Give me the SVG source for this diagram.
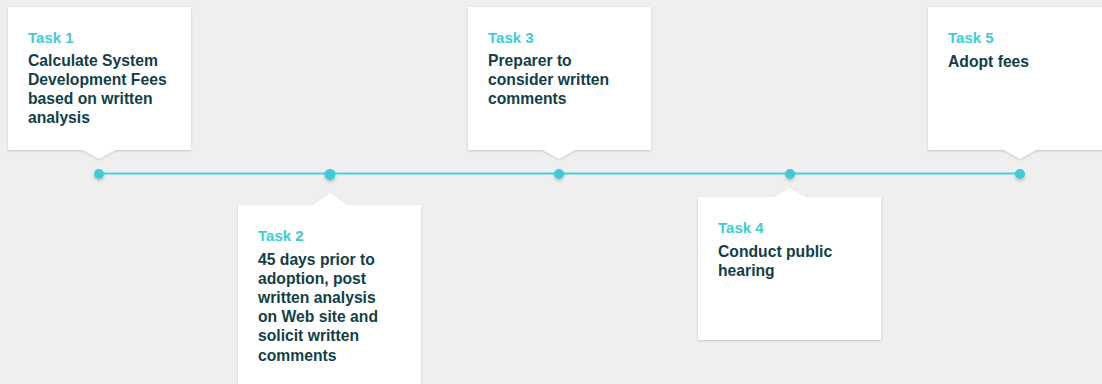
<svg xmlns="http://www.w3.org/2000/svg" width="1102" height="384" viewBox="0 0 1102 384">
<defs>
<filter id="sh" x="-10%" y="-10%" width="120%" height="130%">
<feDropShadow dx="0" dy="1" stdDeviation="1.2" flood-color="#000" flood-opacity="0.18"/>
</filter>
<filter id="dsh" x="-100%" y="-100%" width="300%" height="300%">
<feDropShadow dx="0" dy="2" stdDeviation="1.5" flood-color="#000" flood-opacity="0.2"/>
</filter>
</defs>
<style>
.card{fill:#ffffff;filter:url(#sh)}
.lbl{font-family:"Liberation Sans",Arial,sans-serif;font-weight:bold;font-size:15px;fill:#40cbd6}
.txt{font-family:"Liberation Sans",Arial,sans-serif;font-weight:bold;font-size:15.7px;fill:#123f47}
.dot{fill:#3ecbd6;filter:url(#dsh)}
</style>
<rect width="1102" height="384" fill="#efefef"/>
<g id="connectors">
<line x1="99" y1="173.5" x2="1020" y2="173.5" stroke="#4fcfd9" stroke-width="2"/>
</g>
<g id="task1">
<path class="card" d="M8 7H191V150H115L99 159L83 150H8Z"/>
<text class="lbl" x="28" y="43">Task 1</text>
<text class="txt" x="28" y="66">Calculate System</text>
<text class="txt" x="28" y="85">Development Fees</text>
<text class="txt" x="28" y="104">based on written</text>
<text class="txt" x="28" y="123">analysis</text>
<circle class="dot" cx="99" cy="174" r="5"/>
</g>
<g id="task2">
<path class="card" d="M238 205H313L330 193L347 205H421V390H238Z"/>
<text class="lbl" x="258" y="241">Task 2</text>
<text class="txt" x="258" y="265">45 days prior to</text>
<text class="txt" x="258" y="284">adoption, post</text>
<text class="txt" x="258" y="303">written analysis</text>
<text class="txt" x="258" y="322">on Web site and</text>
<text class="txt" x="258" y="341">solicit written</text>
<text class="txt" x="258" y="361">comments</text>
<circle class="dot" cx="330" cy="174.5" r="5.5"/>
</g>
<g id="task3">
<path class="card" d="M468 7H651V150H575L559 159L543 150H468Z"/>
<text class="lbl" x="488" y="43">Task 3</text>
<text class="txt" x="488" y="66">Preparer to</text>
<text class="txt" x="488" y="85">consider written</text>
<text class="txt" x="488" y="104">comments</text>
<circle class="dot" cx="559" cy="174" r="5"/>
</g>
<g id="task4">
<path class="card" d="M698 197H774L790 188L806 197H881V340H698Z"/>
<text class="lbl" x="718" y="233">Task 4</text>
<text class="txt" x="718" y="257">Conduct public</text>
<text class="txt" x="718" y="276">hearing</text>
<circle class="dot" cx="790" cy="174" r="5"/>
</g>
<g id="task5">
<path class="card" d="M928 7H1110V150H1036L1020 159L1004 150H928Z"/>
<text class="lbl" x="948" y="43">Task 5</text>
<text class="txt" x="948" y="67">Adopt fees</text>
<circle class="dot" cx="1020" cy="174" r="5"/>
</g>
</svg>
